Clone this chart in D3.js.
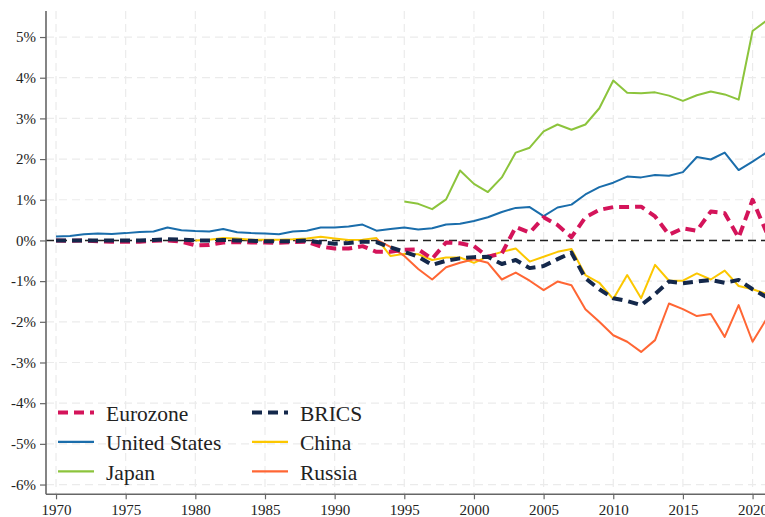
<!DOCTYPE html>
<html>
<head>
<meta charset="utf-8">
<script src="https://cdn.jsdelivr.net/npm/d3@7/dist/d3.min.js"></script>
<style>
  html, body { margin: 0; padding: 0; background: #fff; }
  svg { display: block; }
  text { font-family: "Liberation Serif", "Times New Roman", serif; fill: #222; }
</style>
</head>
<body>
<svg id="chart" width="765" height="517"></svg>
<script>
// Annual values, percent
const years = d3.range(1970, 2022);
const yTicks = [-6, -5, -4, -3, -2, -1, 0, 1, 2, 3, 4, 5];
const xTicks = [1970, 1975, 1980, 1985, 1990, 1995, 2000, 2005, 2010, 2015, 2020];

const eurozone = [0.00, -0.01, 0.00, -0.02, -0.03, -0.03, -0.03, -0.01, 0.00, -0.03,
  -0.12, -0.11, -0.05, -0.04, -0.05, -0.05, -0.06, -0.04, -0.03, -0.15,
  -0.20, -0.20, -0.14, -0.28, -0.28, -0.23, -0.22, -0.45, -0.05, -0.07,
  -0.14, -0.40, -0.32, 0.33, 0.19, 0.57, 0.38, 0.08, 0.57, 0.75,
  0.82, 0.82, 0.83, 0.59, 0.14, 0.30, 0.24, 0.71, 0.67, 0.07,
  1.00, 0.20];

const unitedStates = [0.10, 0.11, 0.15, 0.17, 0.16, 0.18, 0.21, 0.22, 0.32, 0.25,
  0.23, 0.22, 0.28, 0.20, 0.18, 0.17, 0.15, 0.22, 0.24, 0.32,
  0.32, 0.34, 0.39, 0.24, 0.28, 0.32, 0.27, 0.30, 0.39, 0.41,
  0.48, 0.57, 0.70, 0.80, 0.82, 0.60, 0.81, 0.88, 1.13, 1.31,
  1.42, 1.57, 1.55, 1.61, 1.59, 1.68, 2.05, 1.99, 2.16, 1.73,
  1.94, 2.16];

const japanStart = 1995;
const japan = [0.96, 0.90, 0.77, 1.01, 1.72, 1.39, 1.19, 1.55, 2.16, 2.28,
  2.68, 2.85, 2.72, 2.85, 3.25, 3.93, 3.63, 3.62, 3.64, 3.56,
  3.43, 3.57, 3.66, 3.59, 3.46, 5.15, 5.40];

const brics = [0.00, 0.00, 0.00, 0.00, 0.00, 0.00, 0.00, 0.01, 0.03, 0.02,
  0.00, 0.00, 0.01, 0.00, -0.01, -0.02, -0.02, -0.02, 0.00, -0.05,
  -0.08, -0.06, -0.03, -0.04, -0.17, -0.28, -0.40, -0.60, -0.50, -0.44,
  -0.41, -0.40, -0.58, -0.48, -0.68, -0.63, -0.46, -0.30, -0.93, -1.20,
  -1.42, -1.49, -1.59, -1.32, -1.01, -1.05, -1.01, -0.97, -1.04, -0.97,
  -1.20, -1.39];

const chinaStart = 1980;
const china = [0.00, 0.02, 0.06, 0.05, 0.02, 0.02, 0.02, 0.03, 0.05, 0.09,
  0.05, 0.01, 0.02, 0.06, -0.38, -0.33, -0.34, -0.48, -0.42, -0.42,
  -0.55, -0.39, -0.28, -0.20, -0.52, -0.40, -0.28, -0.21, -0.85, -1.04,
  -1.44, -0.85, -1.42, -0.60, -0.99, -0.99, -0.81, -0.96, -0.74, -1.12,
  -1.20, -1.31];

const russiaStart = 1993;
const russia = [0.02, -0.16, -0.38, -0.70, -0.96, -0.66, -0.55, -0.46, -0.55, -0.96,
  -0.79, -0.99, -1.22, -1.01, -1.10, -1.69, -2.00, -2.33, -2.49, -2.74,
  -2.45, -1.55, -1.69, -1.86, -1.81, -2.37, -1.59, -2.49, -1.93];

const seriesNames = ["Eurozone", "United States", "Japan", "BRICS", "China", "Russia"];

const toPoints = (vals, start) => vals.map((v, i) => ({ year: start + i, value: v }));

const series = [
  { name: "United States", pts: toPoints(unitedStates, years[0]), color: "#1a6dab", width: 2, dash: null },
  { name: "Japan", pts: toPoints(japan, japanStart), color: "#8cc43c", width: 2, dash: null },
  { name: "China", pts: toPoints(china, chinaStart), color: "#fcc700", width: 2, dash: null },
  { name: "Russia", pts: toPoints(russia, russiaStart), color: "#ff6634", width: 2, dash: null },
  { name: "Eurozone", pts: toPoints(eurozone, years[0]), color: "#d4145a", width: 4, dash: "10,6" },
  { name: "BRICS", pts: toPoints(brics, years[0]), color: "#14284b", width: 4, dash: "10,6" }
];
const byName = Object.fromEntries(series.map(s => [s.name, s]));

const svg = d3.select("#chart");
const plotLeft = 46, plotBottom = 494.3, plotTop = 11, plotRight = 766.5, viewRight = 765;

const x = d3.scaleLinear().domain([1969.28, 2021]).range([plotLeft, plotRight]);
const y = d3.scaleLinear().domain([-6.24, 5.64]).range([plotBottom, plotTop]);

// grid
const grid = svg.append("g");
grid.selectAll("line.h").data(yTicks).join("line")
  .attr("x1", plotLeft).attr("x2", viewRight)
  .attr("y1", d => y(d)).attr("y2", d => y(d))
  .attr("stroke", "#ebebeb").attr("stroke-width", 1.2).attr("stroke-dasharray", "8,5");
grid.selectAll("line.v").data(xTicks).join("line")
  .attr("x1", d => x(d)).attr("x2", d => x(d))
  .attr("y1", plotTop).attr("y2", plotBottom)
  .attr("stroke", "#ebebeb").attr("stroke-width", 1.2).attr("stroke-dasharray", "8,5");

// zero reference
svg.append("line")
  .attr("x1", plotLeft).attr("x2", viewRight)
  .attr("y1", y(0)).attr("y2", y(0))
  .attr("stroke", "#222").attr("stroke-width", 1.4).attr("stroke-dasharray", "8,5");

// axes
const fontStack = '"Liberation Serif", "Times New Roman", serif';
const yAxis = d3.axisLeft(y).tickValues(yTicks).tickSize(6).tickPadding(4)
  .tickFormat(d => d + "%");
const gy = svg.append("g").attr("transform", `translate(${plotLeft},0)`).call(yAxis);
gy.select(".domain").attr("stroke", "#666").attr("stroke-width", 1.6)
  .attr("d", `M0,${plotTop}V${plotBottom}`);
gy.selectAll(".tick line").attr("stroke", "#666").attr("stroke-width", 1.2);
gy.selectAll(".tick text").attr("font-size", 15).attr("fill", "#222").style("font-family", fontStack);

const xAxis = d3.axisBottom(x).tickValues(xTicks).tickSize(5).tickPadding(5)
  .tickFormat(d3.format("d"));
const gx = svg.append("g").attr("transform", `translate(0,${plotBottom})`).call(xAxis);
gx.select(".domain").attr("stroke", "#666").attr("stroke-width", 1.6)
  .attr("d", `M${plotLeft},0H${viewRight}`);
gx.selectAll(".tick line").attr("stroke", "#666").attr("stroke-width", 1.2);
gx.selectAll(".tick text").attr("font-size", 15).attr("fill", "#222").style("font-family", fontStack);

// series
const line = d3.line().x(d => x(d.year)).y(d => y(d.value));
svg.append("g").selectAll("path").data(series).join("path")
  .attr("d", d => line(d.pts))
  .attr("fill", "none")
  .attr("stroke", d => d.color)
  .attr("stroke-width", d => d.width)
  .attr("stroke-linejoin", "round")
  .attr("stroke-dasharray", d => d.dash);

// legend: two columns of three
const legend = svg.append("g");
seriesNames.forEach((name, i) => {
  const s = byName[name];
  const col = Math.floor(i / 3), row = i % 3;
  const lx = 58 + col * 194, ly = 412.5 + row * 29.4;
  legend.append("line")
    .attr("x1", lx).attr("x2", lx + 36).attr("y1", ly).attr("y2", ly)
    .attr("stroke", s.color).attr("stroke-width", s.dash ? 4 : 2.2)
    .attr("stroke-dasharray", s.dash);
  legend.append("text")
    .attr("x", lx + 48).attr("y", ly + 8.2)
    .attr("font-size", 21.5)
    .style("font-family", fontStack)
    .text(name);
});
</script>
</body>
</html>
